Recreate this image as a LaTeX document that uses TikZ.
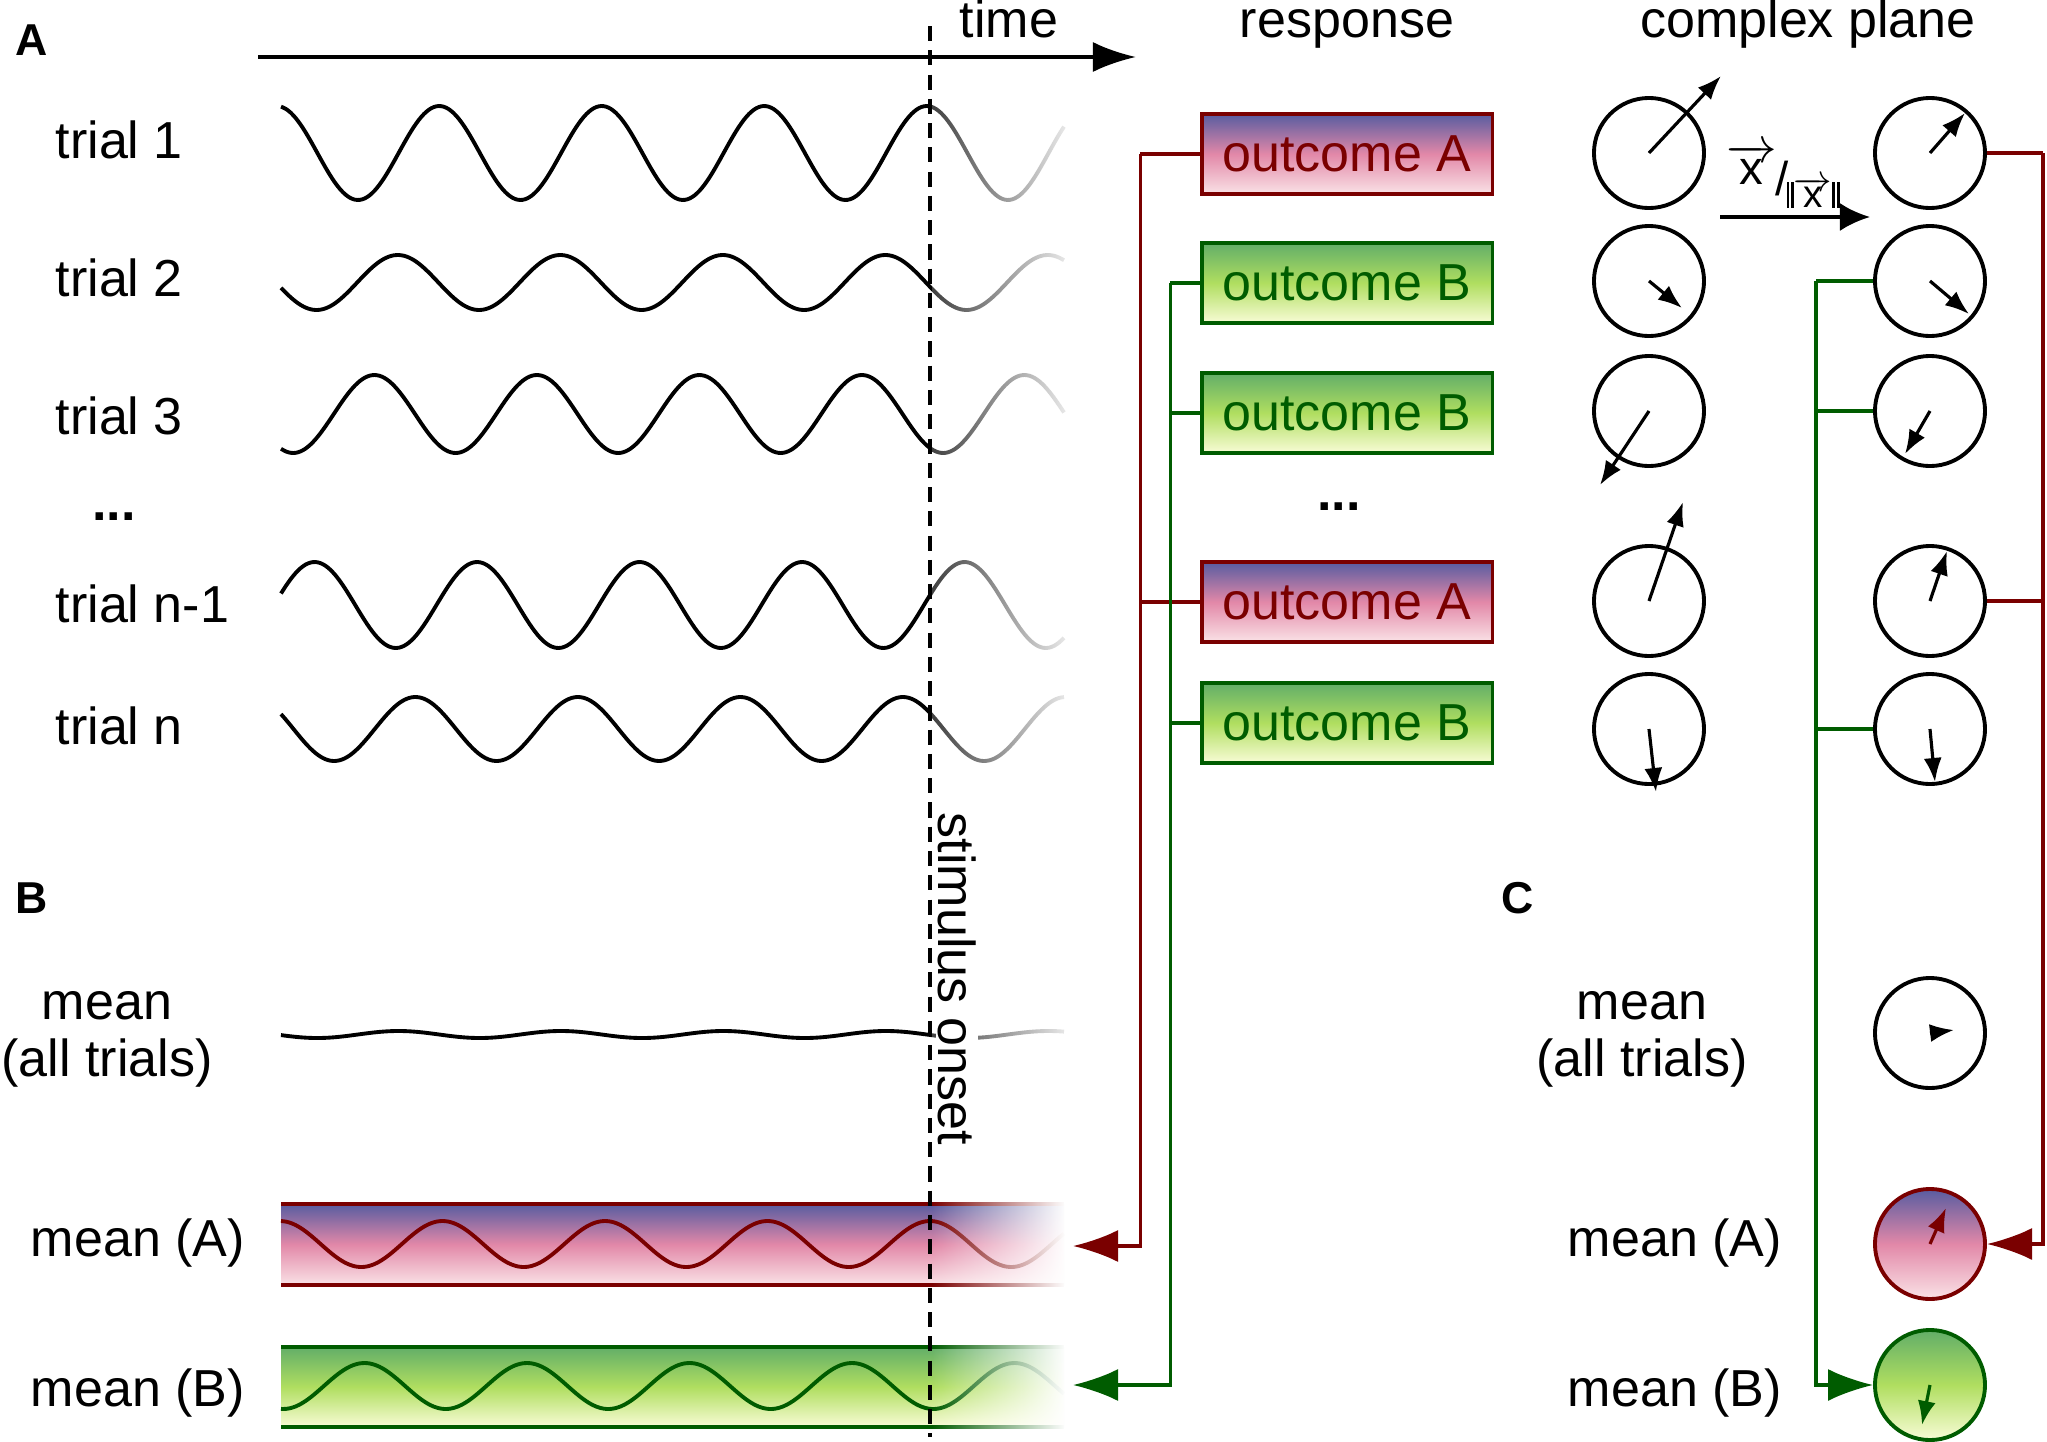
\documentclass[tikz,border=0pt]{standalone}
\usepackage{fontspec}
\setmainfont{Liberation Sans}
\usetikzlibrary{arrows.meta,fadings}

\definecolor{darkredA}{RGB}{122,0,0}
\definecolor{darkgreenB}{RGB}{0,92,0}
\definecolor{gradAtop}{RGB}{88,92,160}
\definecolor{gradAmid}{RGB}{226,136,168}
\definecolor{gradAbot}{RGB}{250,226,230}
\definecolor{gradBtop}{RGB}{98,174,104}
\definecolor{gradBmid}{RGB}{176,222,96}
\definecolor{gradBbot}{RGB}{248,252,214}

\tikzfading[name=tailfade, left color=transparent!75, right color=transparent!8]
\tikzfading[name=bandfade, left color=transparent!100, right color=transparent!0]

\begin{document}
\begin{tikzpicture}[x=0.01cm, y=-0.01cm,
  every node/.style={font=\fontsize{14.8}{16}\selectfont},
  panel/.style={font=\bfseries\fontsize{12.7}{14}\selectfont, anchor=base west, inner sep=0pt},
  wave/.style={line width=1.1pt, line join=round},
  outA/.style={draw=darkredA, line width=0.9pt, top color=gradAtop, bottom color=gradAbot, middle color=gradAmid, text=darkredA, minimum width=2.9cm, minimum height=0.8cm, inner sep=0pt},
  outB/.style={draw=darkgreenB, line width=0.9pt, top color=gradBtop, bottom color=gradBbot, middle color=gradBmid, text=darkgreenB, minimum width=2.9cm, minimum height=0.8cm, inner sep=0pt},
  phasor/.style={circle, draw, line width=1.1pt, minimum size=1.1cm, inner sep=0pt},
  vec/.style={line width=0.9pt, -{Latex[length=0.24cm,width=0.18cm]}},
  redwire/.style={draw=darkredA, line width=0.9pt},
  greenwire/.style={draw=darkgreenB, line width=0.9pt},
  bigtip/.style={-{Latex[length=0.45cm,width=0.32cm]}}]
\useasboundingbox (0,0) rectangle (2047,1442);

% panel letters
\node[panel] (pA) at (15,55) {A};
\node[panel] (pB) at (15,913) {B};
\node[panel] (pC) at (1501,913) {C};

% headers
\coordinate (t0) at (258,57);
\coordinate (t1) at (1136,57);
\draw[line width=1pt, -{Latex[length=0.43cm,width=0.3cm]}] (t0) -- (t1);
\node[anchor=base] (hTime) at (1009,37) {time};
\node[anchor=base] (hResp) at (1347,37) {response};
\node[anchor=base] (hPlane) at (1808,37) {complex plane};

% trials
\foreach \t/\y [count=\k] in {1/158, 2/296, 3/434, n-1/622, n/744}
  \node[anchor=base west, inner sep=0pt] (trial\k) at (55,\y) {trial \t};
\node[anchor=base] (tdots) at (114,520) {\textbf{...}};

\foreach \c/\a/\p in {153/47/926.75, 282.5/27.5/885.3, 414/39/861.9, 605/43/964.6, 729/32/902.9}
  \draw[wave] plot[domain=281:1064, samples=160, smooth] (\x,{\c-\a*cos((\x-\p)*2.21538)});

% mean of all trials
\draw[wave] plot[domain=281:1064, samples=160, smooth] (\x,{1034.5-3.5*cos((\x-886)*2.21538)});

% mean (A) and mean (B) bands
\shade[top color=gradAtop, bottom color=gradAbot, middle color=gradAmid] (281,1204) rectangle (1064,1285);
\draw[redwire] (281,1204) -- (1064,1204) (281,1285) -- (1064,1285);
\draw[wave, darkredA] plot[domain=281:1064, samples=160, smooth] (\x,{1244-23*cos((\x-930)*2.21538)});
\shade[top color=gradBtop, bottom color=gradBbot, middle color=gradBmid] (281,1347) rectangle (1064,1427);
\draw[greenwire] (281,1347) -- (1064,1347) (281,1427) -- (1064,1427);
\draw[wave, darkgreenB] plot[domain=281:1064, samples=160, smooth] (\x,{1386-23*cos((\x-852)*2.21538)});

% fade out after onset
\fill[white, path fading=tailfade] (931.5,90) rectangle (1068,790);
\fill[white, path fading=tailfade] (931.5,1018) rectangle (1068,1052);
\fill[white, path fading=bandfade] (931.5,1196) rectangle (1066,1294);
\fill[white, path fading=bandfade] (931.5,1339) rectangle (1066,1436);

\node[anchor=base] (Ball1) at (107,1019) {mean};
\node[anchor=base] (Ball2) at (107,1076) {(all trials)};
\node[anchor=base] (BmA) at (138,1256) {mean (A)};
\node[anchor=base] (BmB) at (138,1406) {mean (B)};

% stimulus onset
\node[rotate=-90, fill=white, inner sep=0.5pt] (onset) at (957,979) {stimulus onset};
\coordinate (onsettop) at (930,26);
\coordinate (onsetbot) at (930,1437);
\draw[line width=1.1pt, dash pattern=on 4.3pt off 2.6pt] (onsettop) -- (onsetbot);

% responses
\node[outA] (oA1) at (1347,154) {outcome A};
\node[outB] (oB2) at (1347,283) {outcome B};
\node[outB] (oB3) at (1347,413) {outcome B};
\node[anchor=base] (odots) at (1339,510) {\textbf{...}};
\node[outA] (oA4) at (1347,602) {outcome A};
\node[outB] (oB5) at (1347,723) {outcome B};

\coordinate (tipA) at (1073,1246);
\coordinate (tipB) at (1073,1385);
\draw[redwire] (oA1.west) -- ++(-60,0) coordinate (rb);
\draw[redwire, bigtip] (rb) |- (tipA);
\draw[redwire] (oA4.west) -- (oA4.west -| rb);
\draw[greenwire] (oB2.west) -- ++(-30,0) coordinate (gb);
\draw[greenwire, bigtip] (gb) |- (tipB);
\draw[greenwire] (oB3.west) -- (oB3.west -| gb);
\draw[greenwire] (oB5.west) -- (oB5.west -| gb);

% complex plane
\foreach \y [count=\k] in {153, 281, 411, 601, 729} {
  \node[phasor] (raw\k) at (1649,\y) {};
  \node[phasor] (unit\k) at (1930,\y) {};
}
\foreach \k/\dx/\dy in {1/72/-77, 2/33/27, 3/-49/74, 4/34/-99, 5/7/63}
  \draw[vec] (raw\k.center) -- ++(\dx,\dy);
\foreach \k/\dx/\dy in {1/35/-40, 2/39/33, 3/-25/43, 4/17/-50, 5/5/53}
  \draw[vec] (unit\k.center) -- ++(\dx,\dy);

\coordinate (n0) at (1720,217);
\coordinate (n1) at (1870,217);
\draw[line width=1pt, -{Latex[length=0.3cm,width=0.28cm]}] (n0) -- (n1);
\node[inner sep=0pt] (normlbl) at (1783,176) {\fontsize{13.5}{13.5}\selectfont\raisebox{0.45ex}{$\overrightarrow{\mbox{x}}$}\kern-0.5pt/\kern-0.5pt\raisebox{-0.5ex}{\fontsize{11}{11}\selectfont\rule{0.7pt}{1.25ex}\kern0.7pt\rule{0.7pt}{1.25ex}$\overrightarrow{\mbox{x}}$\rule{0.7pt}{1.25ex}\kern0.7pt\rule{0.7pt}{1.25ex}}};

\node[phasor] (mAll) at (1930,1033) {};
\node[phasor, draw=darkredA, top color=gradAtop, bottom color=gradAbot, middle color=gradAmid] (mA) at (1930,1244) {};
\node[phasor, draw=darkgreenB, top color=gradBtop, bottom color=gradBbot, middle color=gradBmid] (mB) at (1930,1385) {};
\draw[vec] (mAll.center) -- ++(24,-3);
\draw[vec, darkredA] (mA.center) -- ++(16,-36);
\draw[vec, darkgreenB] (mB.center) -- ++(-8,40);

\node[anchor=base] (Call1) at (1642,1019) {mean};
\node[anchor=base] (Call2) at (1642,1076) {(all trials)};
\node[anchor=base] (CmA) at (1675,1256) {mean (A)};
\node[anchor=base] (CmB) at (1675,1406) {mean (B)};

\draw[redwire] (unit1.east) -- ++(56,0) coordinate (rc);
\draw[redwire, bigtip] (rc) |- (mA.east);
\draw[redwire] (unit4.east) -- (unit4.east -| rc);
\draw[greenwire] (unit2.west) -- ++(-57,0) coordinate (gc);
\draw[greenwire, bigtip] (gc) |- (mB.west);
\draw[greenwire] (unit3.west) -- (unit3.west -| gc);
\draw[greenwire] (unit5.west) -- (unit5.west -| gc);
\end{tikzpicture}
\end{document}
